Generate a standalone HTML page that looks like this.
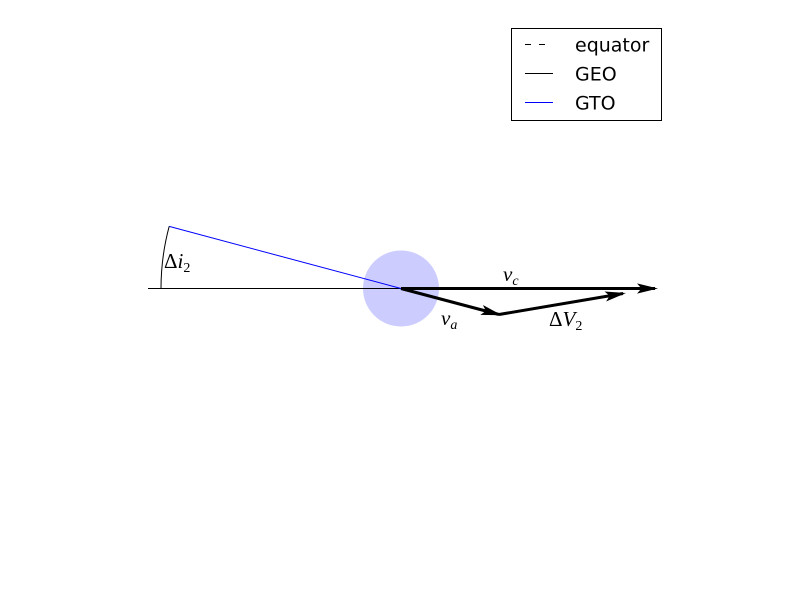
<!DOCTYPE html>
<html><head><meta charset="utf-8"><style>
body{margin:0;background:#fff;width:800px;height:600px;overflow:hidden}
svg text{font-family:"Liberation Serif","DejaVu Serif",serif}
</style></head><body>
<svg id="c" width="800" height="600">
<defs><marker id="ah" markerWidth="7" markerHeight="4" refX="6" refY="2" orient="auto" markerUnits="strokeWidth"><path d="M0,0.3 L7,2 L0,3.7 L1.5,2 Z" fill="#000"/></marker></defs>
</svg>
<script>
// data coordinates (x right, y up); origin is the node
const vcVec = [254, 0];
const vaVec = [98, -26];
const dvStart = [98, -26];
const dvEnd = [222, -5];
const gtoLen = 240;
const gtoAngleDeg = 15;
const geoStart = -253;
const nodeRadius = 38;
const legendItems = ["equator", "GEO", "GTO"];

const X = v => 401 + v, Y = v => 288.5 - v;
const svg = document.getElementById('c'), NS = 'http://www.w3.org/2000/svg';
function mk(t, a, p) { const e = document.createElementNS(NS, t); for (const k in a) e.setAttribute(k, a[k]); (p || svg).appendChild(e); return e; }

let e;
e = mk('circle', {cx: X(0), cy: Y(0), r: nodeRadius, fill: '#ccccff'});


e = mk('line', {x1: X(geoStart), y1: Y(0), x2: X(0), y2: Y(0), stroke: '#000', 'stroke-width': 1});


const a = gtoAngleDeg * Math.PI / 180;
e = mk('line', {x1: X(-gtoLen * Math.cos(a)), y1: Y(gtoLen * Math.sin(a)), x2: X(0), y2: Y(0), stroke: '#0000ff', 'stroke-width': 1});


e = mk('path', {d: `M${X(-gtoLen)},${Y(0)} A${gtoLen},${gtoLen} 0 0 1 ${X(-gtoLen * Math.cos(a))},${Y(gtoLen * Math.sin(a))}`, fill: 'none', stroke: '#000', 'stroke-width': 1});



function arrow(p, q) {
  return mk('line', {x1: X(p[0]), y1: Y(p[1]), x2: X(q[0]), y2: Y(q[1]), stroke: '#000', 'stroke-width': 3, 'marker-end': 'url(#ah)'});
}
e = arrow([0, 0], vcVec);


e = arrow([0, 0], vaVec);


e = arrow(dvStart, dvEnd);



function lab(x, y, main, sub, name) {
  const t = mk('text', {x: x, y: y, 'font-size': 21});
  if (main.startsWith('Δ')) { const s = mk('tspan', {'font-style': 'normal'}, t); s.textContent = 'Δ'; main = main.slice(1); }
  const m = mk('tspan', {'font-style': 'italic'}, t); m.textContent = main;
  const s = mk('tspan', {'font-size': 14, dy: 4, 'font-style': /[0-9]/.test(sub) ? 'normal' : 'italic'}, t); s.textContent = sub;
  
  
}
lab(503, 281, 'v', 'c', 'vc-label');
lab(441, 325, 'v', 'a', 'va-label');
lab(549, 326, 'ΔV', '2', 'delta-v2-label');
lab(164, 268, 'Δi', '2', 'delta-i2-label');

const lg = mk('g', {});


mk('rect', {x: 511.5, y: 28.5, width: 150, height: 92, fill: '#fff', stroke: '#000', 'stroke-width': 1}, lg);
const styles = [{stroke: '#000', 'stroke-dasharray': '6,8'}, {stroke: '#000'}, {stroke: '#0000ff'}];
legendItems.forEach((name, i) => {
  const y = 44.5 + i * 29;
  const l = mk('line', Object.assign({x1: 525, y1: y, x2: 553, y2: y, 'stroke-width': 1}, styles[i]), lg);
  
  
  const t = mk('text', {x: 575, y: y + 7, 'font-size': 19, style: 'font-family:"DejaVu Sans","Liberation Sans",sans-serif'}, lg);
  t.textContent = name;
  
  
});
</script>
</body></html>
